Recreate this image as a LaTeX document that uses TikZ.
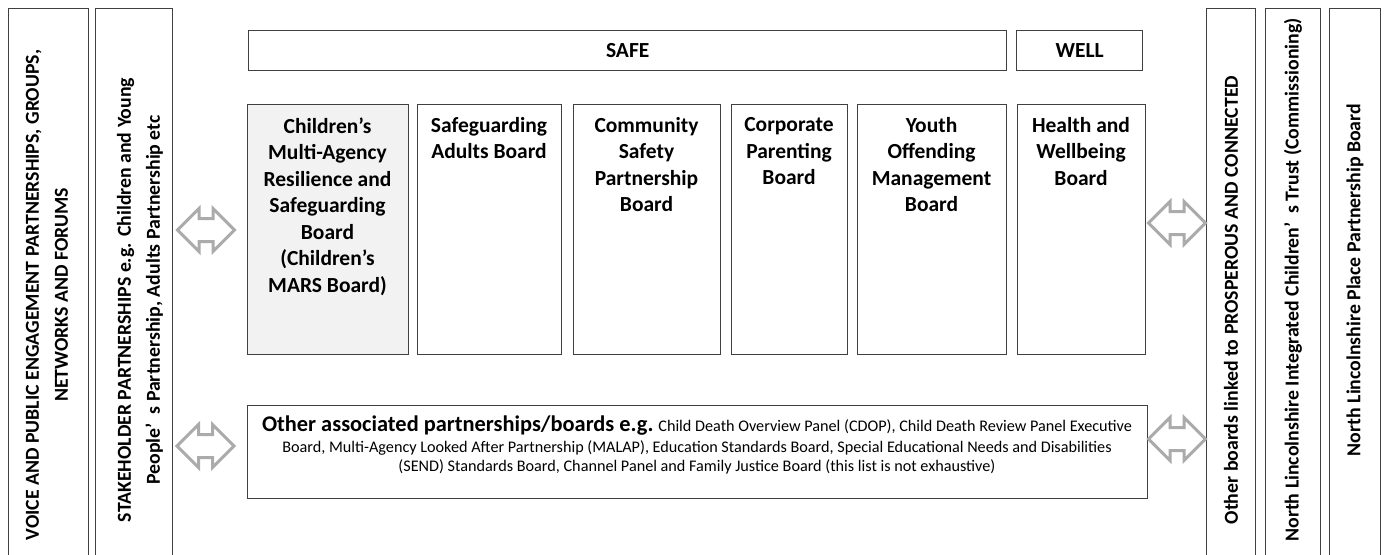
\documentclass[tikz,border=0pt]{standalone}
\usepackage{fontspec}
\setmainfont{Carlito}
\usetikzlibrary{shapes.arrows}

\begin{document}
\begin{tikzpicture}[x=0.5pt, y=-0.5pt,
  box/.style={draw=black!75, line width=0.7pt, inner sep=0pt, anchor=north west},
  boardtext/.style={align=center, inner sep=0pt, anchor=north, font=\bfseries\fontsize{10.75}{13.25}\selectfont},
  sidetext/.style={align=center, inner sep=0pt, rotate=90, font=\bfseries\fontsize{9.9}{14.5}\selectfont},
  link/.style={double arrow, draw=black!33, line width=1.5pt, fill=white, minimum height=28.5pt,
    minimum width=0pt, inner xsep=0pt, inner ysep=5pt, double arrow head extend=5pt}
]
\useasboundingbox (0,0) rectangle (1384,554);

\node[box, minimum width=40pt, minimum height=290pt] (voice) at (8,8) {};
\node[box, minimum width=38.5pt, minimum height=290pt] (stake) at (95,8) {};
\node[box, minimum width=24.5pt, minimum height=290pt] (other) at (1206,8) {};
\node[box, minimum width=27.5pt, minimum height=290pt] (trust) at (1265,8) {};
\node[box, minimum width=25.5pt, minimum height=290pt] (place) at (1329,8) {};

\node[sidetext] (voicet) at (47,295) {VOICE AND PUBLIC ENGAGEMENT PARTNERSHIPS, GROUPS,\\NETWORKS AND FORUMS};
\node[sidetext] (staket) at (140,300) {STAKEHOLDER PARTNERSHIPS e.g. Children and Young\\People’\ \ s Partnership, Adults Partnership etc};
\node[sidetext] (othert) at (1231,300) {Other boards linked to PROSPEROUS AND CONNECTED};
\node[sidetext] (trustt) at (1293,280) {North Lincolnshire Integrated Children’\ \ s Trust (Commissioning)};
\node[sidetext] (placet) at (1355,280) {North Lincolnshire Place Partnership Board};

\node[box, minimum width=379pt, minimum height=20pt, font=\bfseries\fontsize{10.75}{13.25}\selectfont] (safe) at (248,30) {SAFE};
\node[box, minimum width=63pt, minimum height=20pt, font=\bfseries\fontsize{10.75}{13.25}\selectfont] (well) at (1016,30) {WELL};

\node[box, fill=black!5, minimum width=80.5pt, minimum height=125pt] (cmars) at (247,104) {};
\node[box, minimum width=72pt, minimum height=125pt] (sab) at (417,104) {};
\node[box, minimum width=73.5pt, minimum height=125pt] (csp) at (573,104) {};
\node[box, minimum width=58pt, minimum height=125pt] (cpb) at (731,104) {};
\node[box, minimum width=74.5pt, minimum height=125pt] (yomb) at (857,104) {};
\node[box, minimum width=64pt, minimum height=125pt] (hwb) at (1017,104) {};

\node[boardtext] (cmarst) at (327.5,117) {Children’s\\Multi-Agency\\Resilience and\\Safeguarding\\Board\\(Children’s\\MARS Board)};
\node[boardtext] (sabt) at (489,117) {Safeguarding\\Adults Board};
\node[boardtext] (cspt) at (646.5,117) {Community\\Safety\\Partnership\\Board};
\node[boardtext] (cpbt) at (789,117) {Corporate\\Parenting\\Board};
\node[boardtext] (yombt) at (931.5,117) {Youth\\Offending\\Management\\Board};
\node[boardtext] (hwbt) at (1081,117) {Health and\\Wellbeing\\Board};

\node[box, minimum width=450pt, minimum height=46.5pt] (assoc) at (247,405) {};
\node[align=center, inner sep=0pt, anchor=north, font=\fontsize{8.1}{9.2}\selectfont] (assoct) at (697,415)
  {{\bfseries\fontsize{11.2}{13.5}\selectfont Other associated partnerships/boards e.g.} Child Death Overview Panel (CDOP), Child Death Review Panel Executive\\[1.6pt]
   Board, Multi-Agency Looked After Partnership (MALAP), Education Standards Board, Special Educational Needs and Disabilities\\
   (SEND) Standards Board, Channel Panel and Family Justice Board (this list is not exhaustive)};

\node[link] (linkl1) at (206,230) {};
\node[link] (linkl2) at (205.5,446) {};
\node[link] (linkr1) at (1177,223) {};
\node[link] (linkr2) at (1177,439) {};
\end{tikzpicture}
\end{document}
